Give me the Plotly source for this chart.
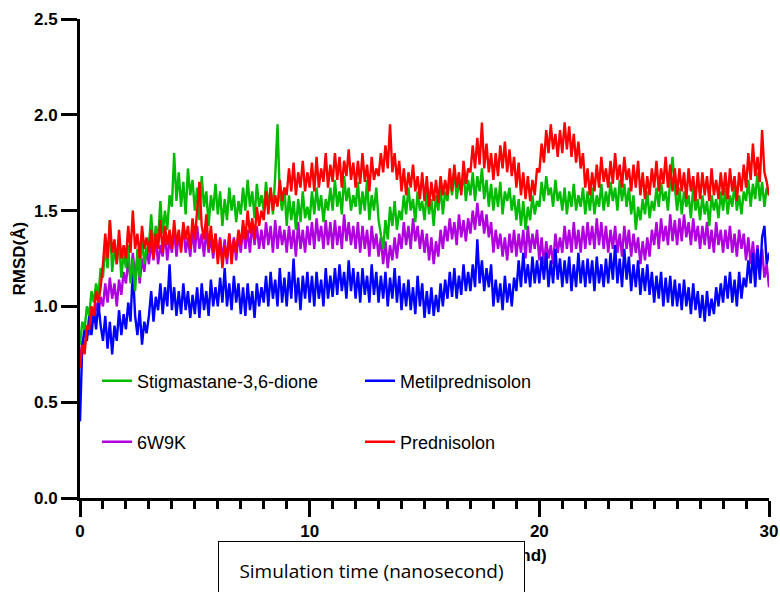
import plotly.graph_objects as go

# ---------------- data (one sample every 0.1 ns) ----------------
TIME_STEP = 0.1
n_points = 301
time_ns = [round(i * TIME_STEP, 1) for i in range(n_points)]

stigmastane = [
    0.80, 0.92, 0.88, 1.00, 0.95, 1.08, 1.02, 1.12, 1.05, 1.20,
    1.15, 1.32, 1.20, 1.45, 1.18, 1.30, 1.22, 1.35, 1.15, 1.28,
    1.20, 1.32, 1.12, 1.25, 1.08, 1.30, 1.15, 1.38, 1.22, 1.30,
    1.32, 1.48, 1.30, 1.42, 1.35, 1.55, 1.38, 1.50, 1.40, 1.58,
    1.52, 1.80, 1.55, 1.70, 1.52, 1.65, 1.48, 1.72, 1.58, 1.66,
    1.50, 1.62, 1.45, 1.68, 1.52, 1.60, 1.42, 1.58, 1.50, 1.64,
    1.48, 1.60, 1.42, 1.56, 1.45, 1.62, 1.50, 1.58, 1.44, 1.55,
    1.48, 1.62, 1.50, 1.66, 1.52, 1.60, 1.46, 1.64, 1.52, 1.58,
    1.50, 1.65, 1.52, 1.62, 1.48, 1.68, 1.95, 1.58, 1.50, 1.62,
    1.42, 1.58, 1.45, 1.55, 1.40, 1.56, 1.44, 1.60, 1.46, 1.52,
    1.45, 1.60, 1.48, 1.62, 1.50, 1.58, 1.44, 1.56, 1.50, 1.62,
    1.50, 1.66, 1.52, 1.60, 1.48, 1.68, 1.55, 1.62, 1.50, 1.58,
    1.52, 1.65, 1.48, 1.60, 1.50, 1.66, 1.45, 1.58, 1.50, 1.62,
    1.45, 1.38, 1.30, 1.45, 1.35, 1.52, 1.42, 1.55, 1.40, 1.50,
    1.45, 1.58, 1.48, 1.62, 1.50, 1.56, 1.44, 1.60, 1.50, 1.55,
    1.45, 1.60, 1.48, 1.56, 1.42, 1.58, 1.50, 1.62, 1.48, 1.60,
    1.55, 1.68, 1.58, 1.72, 1.56, 1.65, 1.60, 1.70, 1.55, 1.66,
    1.58, 1.70, 1.55, 1.68, 1.60, 1.72, 1.56, 1.66, 1.52, 1.64,
    1.50, 1.62, 1.52, 1.65, 1.48, 1.60, 1.55, 1.62, 1.50, 1.58,
    1.45, 1.56, 1.42, 1.55, 1.40, 1.52, 1.45, 1.58, 1.48, 1.55,
    1.52, 1.65, 1.55, 1.68, 1.58, 1.62, 1.52, 1.66, 1.55, 1.60,
    1.50, 1.62, 1.48, 1.60, 1.52, 1.64, 1.50, 1.58, 1.52, 1.62,
    1.48, 1.60, 1.50, 1.62, 1.48, 1.58, 1.52, 1.64, 1.50, 1.60,
    1.52, 1.65, 1.55, 1.62, 1.50, 1.66, 1.55, 1.64, 1.52, 1.62,
    1.48, 1.58, 1.40, 1.52, 1.45, 1.56, 1.48, 1.60, 1.46, 1.55,
    1.50, 1.62, 1.52, 1.65, 1.55, 1.60, 1.50, 1.66, 1.78, 1.62,
    1.50, 1.62, 1.48, 1.60, 1.52, 1.58, 1.46, 1.62, 1.50, 1.56,
    1.45, 1.58, 1.48, 1.55, 1.42, 1.58, 1.50, 1.56, 1.46, 1.60,
    1.50, 1.62, 1.48, 1.58, 1.52, 1.64, 1.50, 1.58, 1.48, 1.60,
    1.55, 1.66, 1.52, 1.64, 1.56, 1.70, 1.55, 1.65, 1.52, 1.62,
    1.58,
]

prednisolon = [
    0.68, 0.80, 0.75, 0.90, 0.88, 1.00, 0.95, 1.08, 1.02, 1.10,
    1.22, 1.38, 1.25, 1.45, 1.28, 1.35, 1.22, 1.40, 1.25, 1.32,
    1.25, 1.42, 1.28, 1.50, 1.30, 1.38, 1.25, 1.42, 1.30, 1.36,
    1.28, 1.40, 1.25, 1.38, 1.30, 1.45, 1.28, 1.42, 1.32, 1.40,
    1.30, 1.45, 1.32, 1.40, 1.28, 1.44, 1.35, 1.42, 1.30, 1.46,
    1.35, 1.50, 1.65, 1.42, 1.35, 1.48, 1.30, 1.42, 1.28, 1.38,
    1.22, 1.35, 1.20, 1.32, 1.25, 1.38, 1.22, 1.35, 1.28, 1.40,
    1.32, 1.45, 1.35, 1.50, 1.38, 1.46, 1.35, 1.52, 1.42, 1.50,
    1.45, 1.60, 1.48, 1.62, 1.50, 1.58, 1.52, 1.66, 1.55, 1.62,
    1.58, 1.72, 1.60, 1.75, 1.58, 1.70, 1.62, 1.76, 1.60, 1.70,
    1.62, 1.75, 1.60, 1.78, 1.62, 1.72, 1.65, 1.80, 1.62, 1.74,
    1.65, 1.80, 1.66, 1.78, 1.62, 1.76, 1.68, 1.82, 1.66, 1.75,
    1.62, 1.76, 1.64, 1.80, 1.65, 1.74, 1.60, 1.78, 1.66, 1.72,
    1.68, 1.80, 1.70, 1.84, 1.72, 1.95, 1.70, 1.80, 1.66, 1.76,
    1.60, 1.72, 1.58, 1.70, 1.62, 1.74, 1.60, 1.68, 1.56, 1.70,
    1.55, 1.68, 1.52, 1.65, 1.55, 1.66, 1.54, 1.68, 1.58, 1.66,
    1.58, 1.72, 1.60, 1.74, 1.62, 1.70, 1.58, 1.76, 1.64, 1.72,
    1.70, 1.84, 1.72, 1.88, 1.74, 1.96, 1.72, 1.85, 1.70, 1.80,
    1.66, 1.80, 1.68, 1.84, 1.72, 1.86, 1.70, 1.82, 1.68, 1.78,
    1.62, 1.75, 1.58, 1.70, 1.56, 1.68, 1.55, 1.66, 1.58, 1.72,
    1.70, 1.85, 1.75, 1.92, 1.80, 1.95, 1.82, 1.90, 1.78, 1.92,
    1.80, 1.96, 1.82, 1.94, 1.78, 1.90, 1.75, 1.86, 1.72, 1.80,
    1.62, 1.72, 1.58, 1.70, 1.60, 1.74, 1.62, 1.78, 1.65, 1.72,
    1.62, 1.76, 1.64, 1.80, 1.66, 1.74, 1.62, 1.78, 1.66, 1.72,
    1.60, 1.74, 1.62, 1.76, 1.58, 1.70, 1.56, 1.68, 1.58, 1.72,
    1.62, 1.76, 1.60, 1.72, 1.64, 1.78, 1.62, 1.74, 1.60, 1.72,
    1.58, 1.72, 1.60, 1.70, 1.56, 1.72, 1.60, 1.68, 1.55, 1.70,
    1.56, 1.70, 1.58, 1.68, 1.55, 1.72, 1.58, 1.66, 1.56, 1.70,
    1.58, 1.70, 1.56, 1.72, 1.60, 1.68, 1.55, 1.70, 1.60, 1.74,
    1.62, 1.80, 1.66, 1.85, 1.68, 1.78, 1.65, 1.92, 1.70, 1.65,
    1.58,
]

w6w9k = [
    0.72, 0.82, 0.78, 0.90, 0.85, 0.98, 0.92, 1.02, 0.96, 1.05,
    1.00, 1.12, 1.02, 1.15, 1.04, 1.12, 1.00, 1.14, 1.06, 1.18,
    1.12, 1.24, 1.14, 1.28, 1.15, 1.26, 1.12, 1.25, 1.18, 1.30,
    1.22, 1.34, 1.24, 1.36, 1.22, 1.32, 1.26, 1.38, 1.24, 1.35,
    1.28, 1.40, 1.26, 1.38, 1.30, 1.42, 1.28, 1.36, 1.26, 1.40,
    1.28, 1.42, 1.30, 1.38, 1.26, 1.40, 1.28, 1.36, 1.25, 1.38,
    1.25, 1.36, 1.24, 1.35, 1.22, 1.38, 1.26, 1.36, 1.24, 1.38,
    1.28, 1.42, 1.30, 1.40, 1.28, 1.44, 1.32, 1.42, 1.30, 1.40,
    1.30, 1.44, 1.32, 1.42, 1.28, 1.45, 1.30, 1.42, 1.32, 1.40,
    1.28, 1.42, 1.30, 1.40, 1.26, 1.44, 1.30, 1.40, 1.28, 1.42,
    1.32, 1.44, 1.30, 1.46, 1.34, 1.42, 1.30, 1.45, 1.32, 1.44,
    1.30, 1.45, 1.32, 1.42, 1.30, 1.48, 1.34, 1.44, 1.32, 1.42,
    1.30, 1.44, 1.28, 1.42, 1.30, 1.40, 1.26, 1.42, 1.30, 1.38,
    1.26, 1.36, 1.22, 1.34, 1.20, 1.32, 1.24, 1.36, 1.25, 1.38,
    1.30, 1.44, 1.32, 1.42, 1.30, 1.46, 1.34, 1.42, 1.30, 1.40,
    1.28, 1.38, 1.24, 1.36, 1.22, 1.34, 1.26, 1.40, 1.30, 1.42,
    1.34, 1.46, 1.35, 1.44, 1.32, 1.48, 1.36, 1.45, 1.34, 1.46,
    1.38, 1.50, 1.40, 1.54, 1.42, 1.50, 1.38, 1.48, 1.36, 1.44,
    1.28, 1.40, 1.30, 1.38, 1.26, 1.36, 1.24, 1.38, 1.28, 1.40,
    1.26, 1.38, 1.28, 1.40, 1.25, 1.42, 1.28, 1.38, 1.30, 1.40,
    1.24, 1.36, 1.22, 1.34, 1.25, 1.32, 1.22, 1.38, 1.28, 1.36,
    1.28, 1.42, 1.30, 1.40, 1.28, 1.44, 1.30, 1.40, 1.28, 1.42,
    1.30, 1.44, 1.32, 1.42, 1.30, 1.46, 1.32, 1.44, 1.30, 1.42,
    1.28, 1.40, 1.30, 1.42, 1.28, 1.38, 1.26, 1.42, 1.30, 1.40,
    1.26, 1.38, 1.28, 1.36, 1.22, 1.34, 1.24, 1.36, 1.26, 1.40,
    1.32, 1.44, 1.30, 1.46, 1.34, 1.42, 1.32, 1.48, 1.34, 1.45,
    1.32, 1.46, 1.34, 1.48, 1.36, 1.44, 1.32, 1.46, 1.34, 1.42,
    1.30, 1.42, 1.32, 1.44, 1.30, 1.40, 1.28, 1.44, 1.32, 1.40,
    1.28, 1.40, 1.30, 1.42, 1.28, 1.38, 1.26, 1.40, 1.30, 1.38,
    1.24, 1.36, 1.22, 1.34, 1.20, 1.32, 1.18, 1.30, 1.15, 1.22,
    1.10,
]

metilprednisolon = [
    0.40, 0.80, 0.88, 0.82, 0.95, 0.85, 0.98, 0.88, 1.02, 0.90,
    0.82, 0.95, 0.78, 0.92, 0.75, 0.90, 0.82, 0.98, 0.85, 0.96,
    0.88, 1.02, 0.92, 1.20, 0.95, 0.85, 0.98, 0.80, 0.92, 0.86,
    0.95, 1.08, 0.92, 1.05, 0.98, 1.12, 0.96, 1.10, 1.00, 1.22,
    0.98, 1.10, 0.95, 1.08, 0.96, 1.12, 0.98, 1.08, 0.94, 1.06,
    0.96, 1.10, 0.94, 1.12, 0.98, 1.08, 0.95, 1.14, 1.00, 1.10,
    1.00, 1.15, 1.02, 1.20, 1.00, 1.12, 0.98, 1.16, 1.02, 1.12,
    0.96, 1.10, 0.95, 1.12, 0.98, 1.08, 0.94, 1.12, 1.00, 1.10,
    1.02, 1.16, 1.00, 1.18, 1.04, 1.14, 1.00, 1.20, 1.02, 1.15,
    1.00, 1.18, 1.04, 1.25, 1.02, 1.15, 0.98, 1.16, 1.04, 1.18,
    1.02, 1.16, 1.00, 1.18, 1.04, 1.14, 1.00, 1.20, 1.04, 1.16,
    1.05, 1.20, 1.06, 1.22, 1.08, 1.18, 1.04, 1.24, 1.08, 1.20,
    1.04, 1.18, 1.02, 1.20, 1.06, 1.16, 1.02, 1.22, 1.06, 1.18,
    1.02, 1.16, 1.04, 1.18, 1.00, 1.15, 1.04, 1.20, 1.02, 1.16,
    0.98, 1.12, 1.00, 1.14, 0.98, 1.10, 0.96, 1.16, 1.00, 1.12,
    0.94, 1.08, 0.96, 1.10, 0.95, 1.06, 0.97, 1.12, 1.00, 1.14,
    1.04, 1.18, 1.05, 1.20, 1.04, 1.16, 1.06, 1.22, 1.08, 1.18,
    1.08, 1.22, 1.10, 1.35, 1.12, 1.24, 1.08, 1.20, 1.10, 1.22,
    1.00, 1.14, 1.02, 1.12, 0.98, 1.16, 1.02, 1.12, 1.00, 1.15,
    1.08, 1.24, 1.10, 1.28, 1.12, 1.22, 1.10, 1.26, 1.12, 1.24,
    1.12, 1.26, 1.14, 1.28, 1.10, 1.24, 1.12, 1.30, 1.14, 1.25,
    1.10, 1.24, 1.12, 1.26, 1.08, 1.22, 1.10, 1.28, 1.12, 1.24,
    1.10, 1.25, 1.12, 1.24, 1.08, 1.26, 1.12, 1.22, 1.10, 1.25,
    1.12, 1.28, 1.14, 1.32, 1.12, 1.25, 1.10, 1.30, 1.14, 1.26,
    1.08, 1.22, 1.10, 1.24, 1.06, 1.20, 1.08, 1.22, 1.06, 1.18,
    1.02, 1.16, 1.04, 1.18, 1.00, 1.15, 1.02, 1.16, 1.00, 1.14,
    1.00, 1.12, 0.98, 1.14, 1.00, 1.10, 0.96, 1.12, 0.98, 1.08,
    0.94, 1.06, 0.92, 1.08, 0.95, 1.04, 0.96, 1.10, 1.00, 1.12,
    1.02, 1.16, 1.04, 1.18, 1.02, 1.14, 1.00, 1.18, 1.04, 1.15,
    1.10, 1.24, 1.12, 1.28, 1.10, 1.30, 1.14, 1.36, 1.42, 1.22,
    1.28,
]

series_names = ["Stigmastane-3,6-dione", "Metilprednisolon", "6W9K", "Prednisolon"]
x_tick_values = [0, 10, 20, 30]
y_tick_values = [0.0, 0.5, 1.0, 1.5, 2.0, 2.5]
y_title = "RMSD(Å)"
x_title = "Simulation time (nanosecond)"

# ---------------- figure ----------------
fig = go.Figure()

LW = 2.4
# drawing order: purple, blue, green, red
fig.add_trace(go.Scatter(x=time_ns, y=w6w9k, mode="lines", name=series_names[2],
                         line=dict(color="#b000e0", width=LW), legend="legend2", legendrank=1))
fig.add_trace(go.Scatter(x=time_ns, y=metilprednisolon, mode="lines", name=series_names[1],
                         line=dict(color="#0000ff", width=LW), legend="legend", legendrank=2))
fig.add_trace(go.Scatter(x=time_ns, y=stigmastane, mode="lines", name=series_names[0],
                         line=dict(color="#00bb00", width=LW), legend="legend", legendrank=1))
fig.add_trace(go.Scatter(x=time_ns, y=prednisolon, mode="lines", name=series_names[3],
                         line=dict(color="#ff0000", width=LW), legend="legend2", legendrank=2))

tick_font = dict(family="Liberation Sans, Arial", size=17, color="black", weight="bold")
legend_font = dict(family="Liberation Sans, Arial", size=18, color="black")

L, R, T, B = 80, 11, 19, 94
W, H = 780, 592
pw, ph = W - L - R, H - T - B

def px_x(p):
    return (p - L) / pw

def px_y(p):
    return (H - B - p) / ph

fig.update_layout(
    width=W, height=H,
    margin=dict(l=L, r=R, t=T, b=B, pad=0, autoexpand=False),
    paper_bgcolor="white", plot_bgcolor="white",
    showlegend=True,
    legend=dict(orientation="h", x=px_x(97), y=px_y(381), xanchor="left", yanchor="middle",
                entrywidth=218, entrywidthmode="pixels", font=legend_font,
                bgcolor="rgba(0,0,0,0)", itemwidth=30, traceorder="normal"),
    legend2=dict(orientation="h", x=px_x(97), y=px_y(442), xanchor="left", yanchor="middle",
                 entrywidth=218, entrywidthmode="pixels", font=legend_font,
                 bgcolor="rgba(0,0,0,0)", itemwidth=30, traceorder="normal"),
    xaxis=dict(range=[0, 30], tickvals=x_tick_values, ticks="outside", ticklen=16, tickwidth=3,
               tickcolor="black", showline=True, linecolor="black", linewidth=3,
               showgrid=False, zeroline=False, tickfont=tick_font, automargin=False,
               minor=dict(dtick=1, ticks="outside", ticklen=8, tickwidth=2.5, tickcolor="black",
                          showgrid=False)),
    yaxis=dict(range=[0, 2.5], tickvals=y_tick_values, tickformat=".1f", ticks="outside",
               ticklen=16, tickwidth=3, tickcolor="black", showline=True, linecolor="black",
               linewidth=3, showgrid=False, zeroline=False, tickfont=tick_font, automargin=False),
)

# y axis title
fig.add_annotation(xref="paper", yref="paper", x=px_x(19), y=0.5, text=y_title, textangle=-90,
                   showarrow=False, xanchor="center", yanchor="middle",
                   font=dict(family="Liberation Sans, Arial", size=17, color="black", weight="bold"))
# x axis title (partly covered by the box below)
fig.add_annotation(xref="paper", yref="paper", x=px_x(549), y=px_y(555), text=x_title,
                   showarrow=False, xanchor="right", yanchor="middle",
                   font=dict(family="Liberation Sans, Arial", size=17, color="black", weight="bold"))
# overlapping white box with its own caption (drawn after, so it hides the title beneath)
fig.add_annotation(xref="paper", yref="paper", x=px_x(371.5), y=px_y(571), text=x_title,
                   showarrow=False, xanchor="center", yanchor="middle",
                   width=305, height=58, borderpad=0, borderwidth=1, bordercolor="black",
                   bgcolor="white", align="center", valign="middle",
                   font=dict(family="Open Sans", size=19, color="black"))

fig.write_html("out.html")
